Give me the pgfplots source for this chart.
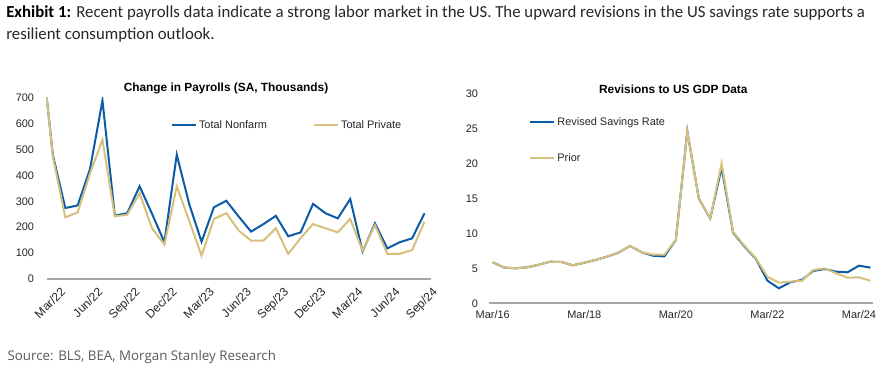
\documentclass[border=0pt]{standalone}
\usepackage{pgfplots}
\pgfplotsset{compat=1.18}
\usepackage{fontspec}
\setmainfont{Liberation Sans}
\newfontfamily\hdr{Carlito}
\newfontfamily\src{Open Sans}
\definecolor{nfblue}{HTML}{0B5CA5}
\definecolor{pgold}{HTML}{D6C07C}
\definecolor{axgray}{HTML}{A6A6A6}
\definecolor{txt}{HTML}{262626}

\pgfplotstableread{
k nf pr
-1 922 928
0 478 472
1 274 238
2 284 257
3 425 408
4 689 538
5 245 242
6 254 248
7 358 331
8 252 196
9 142 133
10 480 358
11 290 225
12 144 90
13 277 232
14 302 254
15 241 187
16 183 148
17 212 148
18 244 196
19 165 97
20 180 158
21 290 212
22 254 196
23 234 180
24 309 232
25 106 109
26 215 208
27 118 97
28 142 97
29 157 112
30 254 221
}\payrolls

\pgfplotstableread{
k rev prior
0 5.86 5.86
1 5.10 5.10
2 5.00 5.00
3 5.14 5.14
4 5.50 5.50
5 5.95 5.95
6 5.90 5.90
7 5.43 5.43
8 5.80 5.80
9 6.20 6.20
10 6.67 6.67
11 7.24 7.24
12 8.20 8.20
13 7.30 7.30
14 6.80 6.95
15 6.70 6.95
16 9.05 9.05
17 24.6 24.6
18 15.0 15.0
19 12.1 12.1
20 19.4 20.0
21 10.1 10.2
22 8.10 8.20
23 6.33 6.40
24 3.24 3.80
25 2.14 2.95
26 3.00 3.10
27 3.33 3.20
28 4.62 4.76
29 4.90 5.00
30 4.52 4.29
31 4.43 3.67
32 5.38 3.70
33 5.10 3.24
}\gdp

\pgfplotsset{
  mystyle/.style={
    scale only axis,
    axis x line*=bottom,
    axis y line*=left,
    x axis line style={draw=axgray, line width=1.5pt, -},
    y axis line style={draw=none, -},
    major tick length=0pt,
    tick label style={font=\fontsize{8.2}{9.5}\selectfont, text=txt},
    /pgf/number format/assume math mode=true,
    legend cell align=left,
    legend style={draw=none, fill=none, inner sep=0pt, font=\fontsize{8.2}{9.6}\selectfont, text=txt,
      nodes={inner sep=1.5pt, anchor=west}},
    legend image code/.code={\draw[##1, line width=1.5pt] (0pt,0pt) -- (18pt,0pt);},
  }
}

\begin{document}
\begin{tikzpicture}
\path[use as bounding box] (0pt,0pt) rectangle (669pt,-278.25pt);

% header
\node[anchor=base west, inner sep=0pt, text=txt] at (4.5pt,-12.9pt)
  {\hdr\fontsize{12.6}{14}\selectfont\textbf{\color{black}Exhibit 1:} Recent payrolls data indicate a strong labor market in the US. The upward revisions in the US savings rate supports a};
\node[anchor=base west, inner sep=0pt, text=txt] at (4.5pt,-29.4pt)
  {\hdr\fontsize{12.6}{14}\selectfont resilient consumption outlook.};

% titles
\node[font=\bfseries\fontsize{8.9}{10}\selectfont] at (169.5pt,-66pt) {Change in Payrolls (SA, Thousands)};
\node[font=\bfseries\fontsize{8.9}{10}\selectfont] at (505pt,-66.75pt) {Revisions to US GDP Data};

% left axis
\begin{axis}[mystyle,
  at={(35.03pt,-209.25pt)}, anchor=south west,
  width=288pt, height=136pt,
  xmin=-0.5, xmax=30.5, ymin=0, ymax=700,
  ytick={0,100,...,700},
  yticklabel style={anchor=east, xshift=-6pt},
  xtick={0,3,...,30},
  xticklabels={Mar/22,Jun/22,Sep/22,Dec/22,Mar/23,Jun/23,Sep/23,Dec/23,Mar/24,Jun/24,Sep/24},
  xticklabel style={rotate=45, anchor=north east, inner sep=1pt, yshift=-6.5pt, xshift=1pt, font=\fontsize{9}{10}\selectfont},
  clip=true,
  legend columns=2,
  legend style={at={(0.323,0.888)}, anchor=north west, /tikz/every even column/.append style={column sep=33pt}},
]
\addplot[nfblue, line width=1.5pt] table[x=k, y=nf] {\payrolls};
\addlegendentry{Total Nonfarm}
\addplot[pgold, line width=1.5pt] table[x=k, y=pr] {\payrolls};
\addlegendentry{Total Private}
\end{axis}

% right axis
\begin{axis}[mystyle,
  at={(366.98pt,-227.48pt)}, anchor=south west,
  width=287.55pt, height=157.5pt,
  xmin=-0.3, xmax=33.2, ymin=0, ymax=30,
  ytick={0,5,...,30},
  yticklabel style={anchor=east, xshift=-5pt},
  xtick={0,8,...,32},
  xticklabels={Mar/16,Mar/18,Mar/20,Mar/22,Mar/24},
  xticklabel style={anchor=north, yshift=-2pt},
  legend style={at={(0.104,0.897)}, anchor=north west, row sep=16.5pt},
]
\addplot[nfblue, line width=1.5pt] table[x=k, y=rev] {\gdp};
\addlegendentry{Revised Savings Rate}
\addplot[pgold, line width=1.5pt] table[x=k, y=prior] {\gdp};
\addlegendentry{Prior}
\end{axis}

% source
\node[anchor=base west, inner sep=0pt, text=black!65] at (5.5pt,-270pt)
  {\src\fontsize{10}{12}\selectfont Source: BLS, BEA, Morgan Stanley Research};
\end{tikzpicture}
\end{document}
